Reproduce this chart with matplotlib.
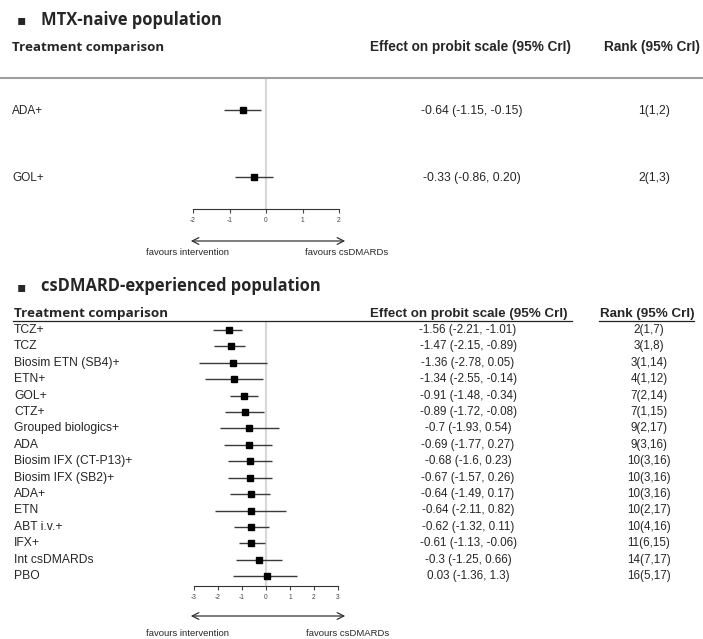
import matplotlib
matplotlib.use("Agg")
import matplotlib.pyplot as plt
import numpy as np

# MTX-naive population
mtx_labels = ["ADA+", "GOL+"]
mtx_est = [-0.64, -0.33]
mtx_lo = [-1.15, -0.86]
mtx_hi = [-0.15, 0.20]
mtx_effect_txt = ["-0.64 (-1.15, -0.15)", "-0.33 (-0.86, 0.20)"]
mtx_rank_txt = ["1(1,2)", "2(1,3)"]
mtx_ticks = [-2, -1, 0, 1, 2]

# csDMARD-experienced population
cs_labels = ["TCZ+", "TCZ", "Biosim ETN (SB4)+", "ETN+", "GOL+", "CTZ+",
             "Grouped biologics+", "ADA", "Biosim IFX (CT-P13)+",
             "Biosim IFX (SB2)+", "ADA+", "ETN", "ABT i.v.+", "IFX+",
             "Int csDMARDs", "PBO"]
cs_est = [-1.56, -1.47, -1.36, -1.34, -0.91, -0.89, -0.7, -0.69, -0.68,
          -0.67, -0.64, -0.64, -0.62, -0.61, -0.3, 0.03]
cs_lo = [-2.21, -2.15, -2.78, -2.55, -1.48, -1.72, -1.93, -1.77, -1.6,
         -1.57, -1.49, -2.11, -1.32, -1.13, -1.25, -1.36]
cs_hi = [-1.01, -0.89, 0.05, -0.14, -0.34, -0.08, 0.54, 0.27, 0.23,
         0.26, 0.17, 0.82, 0.11, -0.06, 0.66, 1.3]
cs_effect_txt = ["-1.56 (-2.21, -1.01)", "-1.47 (-2.15, -0.89)",
                 "-1.36 (-2.78, 0.05)", "-1.34 (-2.55, -0.14)",
                 "-0.91 (-1.48, -0.34)", "-0.89 (-1.72, -0.08)",
                 "-0.7 (-1.93, 0.54)", "-0.69 (-1.77, 0.27)",
                 "-0.68 (-1.6, 0.23)", "-0.67 (-1.57, 0.26)",
                 "-0.64 (-1.49, 0.17)", "-0.64 (-2.11, 0.82)",
                 "-0.62 (-1.32, 0.11)", "-0.61 (-1.13, -0.06)",
                 "-0.3 (-1.25, 0.66)", "0.03 (-1.36, 1.3)"]
cs_rank_txt = ["2(1,7)", "3(1,8)", "3(1,14)", "4(1,12)", "7(2,14)",
               "7(1,15)", "9(2,17)", "9(3,16)", "10(3,16)", "10(3,16)",
               "10(3,16)", "10(2,17)", "10(4,16)", "11(6,15)", "14(7,17)",
               "16(5,17)"]
cs_ticks = [-3, -2, -1, 0, 1, 2, 3]

W, H = 703, 639
fig = plt.figure(figsize=(W / 100, H / 100), dpi=100)
plt.rcParams['font.family'] = ['Liberation Sans', 'DejaVu Sans']
TXT = '#262626'


def fx(x):
    return x / W


def fy(y):
    return 1 - y / H


def forest(ax, est, lo, hi, ticks, ylim, msize):
    ypos = np.arange(1, len(est) + 1)
    ax.axvline(0, color='#d8d8d8', lw=1.6, zorder=0)
    ax.hlines(ypos, lo, hi, color='#3a3a3a', lw=1.0)
    ax.plot(est, ypos, 's', color='black', ms=msize, lw=0)
    ax.set_ylim(*ylim)
    ax.set_yticks([])
    for s in ['top', 'right', 'left']:
        ax.spines[s].set_visible(False)
    ax.spines['bottom'].set_bounds(ticks[0], ticks[-1])
    ax.spines['bottom'].set_linewidth(0.8)
    ax.spines['bottom'].set_color('#333333')
    ax.set_xticks(ticks)
    ax.set_xticklabels([str(t) for t in ticks])
    ax.tick_params(axis='x', length=3, width=0.8, labelsize=4.8, pad=3,
                   colors='#444444')
    ax.patch.set_visible(False)


def arrow(ax, y):
    ax.annotate("", xy=(fx(348), fy(y)), xytext=(fx(188), fy(y)),
                xycoords='figure fraction', textcoords='figure fraction',
                arrowprops=dict(arrowstyle='<->', lw=0.9, color='#333333',
                                mutation_scale=12))


# ---- top panel ----
# x: -2 at px 193, 2 at px 339
unit = (339 - 193) / 4
x0 = 266
ax1 = fig.add_axes([fx(x0 - 2.5 * unit), fy(209), 5 * unit / W, 131 / H])
ax1.set_xlim(-2.5, 2.5)
forest(ax1, mtx_est, mtx_lo, mtx_hi, mtx_ticks, (2.47, 0.52), 4)

fig.text(fx(17), fy(20), "\u25aa", fontsize=10, va='center', ha='left',
         family='DejaVu Sans', color=TXT)
fig.text(fx(41), fy(20), "MTX-naive population", fontsize=11.9,
         fontweight='bold', va='center', family='Open Sans', color=TXT)
fig.text(fx(12), fy(47), "Treatment comparison", fontsize=9.6,
         fontweight='bold', va='center', family='Open Sans', color=TXT)
fig.text(fx(470), fy(47), "Effect on probit scale (95% CrI)", fontsize=9.8,
         fontweight='bold', va='center', ha='center', color=TXT)
fig.text(fx(652), fy(47), "Rank (95% CrI)", fontsize=9.8,
         fontweight='bold', va='center', ha='center', color=TXT)
fig.add_artist(plt.Line2D([0, 1], [fy(78), fy(78)], color='#a0a0a0', lw=1.5))

row_px = [111, 178]
for i, lab in enumerate(mtx_labels):
    fig.text(fx(12), fy(row_px[i]), lab, fontsize=8.5, va='center',
             color=TXT)
    fig.text(fx(472), fy(row_px[i]), mtx_effect_txt[i], fontsize=8.7,
             va='center', ha='center', color=TXT)
    fig.text(fx(654), fy(row_px[i]), mtx_rank_txt[i], fontsize=8.7,
             va='center', ha='center', color=TXT)

arrow(ax1, 241)
fig.text(fx(188), fy(253), "favours intervention", fontsize=6.8,
         va='center', ha='center', color=TXT)
fig.text(fx(347), fy(253), "favours csDMARDs", fontsize=6.8,
         va='center', ha='center', color=TXT)

# ---- bottom panel ----
unit2 = (338 - 194) / 6
x0b = 266
ax2 = fig.add_axes([fx(x0b - 3.5 * unit2), fy(586), 7 * unit2 / W,
                    (586 - 321) / H])
ax2.set_xlim(-3.5, 3.5)
forest(ax2, cs_est, cs_lo, cs_hi, cs_ticks, (16.6, 0.45), 4)

fig.text(fx(17), fy(287), "\u25aa", fontsize=10, va='center', ha='left',
         family='DejaVu Sans', color=TXT)
fig.text(fx(41), fy(286), "csDMARD-experienced population", fontsize=11.9,
         fontweight='bold', va='center', family='Open Sans', color=TXT)
fig.text(fx(14), fy(313), "Treatment comparison", fontsize=9.7,
         fontweight='bold', va='center', family='Open Sans', color=TXT)
fig.text(fx(469), fy(314), "Effect on probit scale (95% CrI)", fontsize=9.6,
         fontweight='bold', va='center', ha='center', color=TXT)
fig.text(fx(647), fy(314), "Rank (95% CrI)", fontsize=9.6,
         fontweight='bold', va='center', ha='center', color=TXT)
fig.add_artist(plt.Line2D([fx(13), fx(572)], [fy(321), fy(321)],
                          color='#222222', lw=0.9))
fig.add_artist(plt.Line2D([fx(599), fx(694)], [fy(321), fy(321)],
                          color='#222222', lw=0.9))

for i, lab in enumerate(cs_labels):
    yy = 330 + i * 16.4
    fig.text(fx(14), fy(yy), lab, fontsize=8.7, va='center', color=TXT)
    fig.text(fx(468), fy(yy), cs_effect_txt[i], fontsize=8.4, va='center',
             ha='center', color=TXT)
    fig.text(fx(649), fy(yy), cs_rank_txt[i], fontsize=8.4, va='center',
             ha='center', color=TXT)

arrow(ax2, 616)
fig.text(fx(188), fy(634), "favours intervention", fontsize=6.8,
         va='center', ha='center', color=TXT)
fig.text(fx(348), fy(634), "favours csDMARDs", fontsize=6.8,
         va='center', ha='center', color=TXT)

fig.savefig("out.png", dpi=100, facecolor='white')
